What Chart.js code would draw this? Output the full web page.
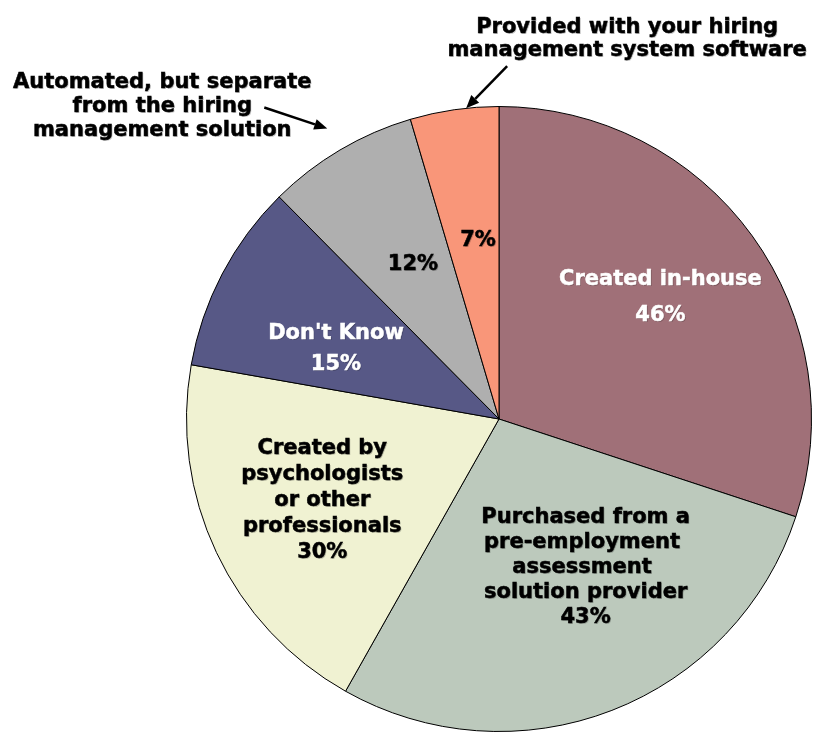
<!DOCTYPE html>
<html><head><meta charset="utf-8">
<script src="https://cdn.jsdelivr.net/npm/chart.js@4"></script>
<style>html,body{margin:0;padding:0;background:#fff}#wrap{width:815px;height:733px;position:relative}</style>
</head><body><div id="wrap"><canvas id="c"></canvas></div>
<script>
// ---- data ----
const categories = [
  "Created in-house",
  "Purchased from a pre-employment assessment solution provider",
  "Created by psychologists or other professionals",
  "Don't Know",
  "Automated, but separate from the hiring management solution",
  "Provided with your hiring management system software"
];
const values = [46, 43, 30, 15, 12, 7];
const sliceLabelLines = [
  ["Created in-house"],
  ["Purchased from a", "pre-employment ", "assessment ", "solution provider"],
  ["Created by", "psychologists", "or other", "professionals"],
  ["Don't Know"],
  [],
  []
];
const calloutLines = [
  null, null, null, null,
  ["Automated, but separate", "from the hiring", "management solution"],
  ["Provided with your hiring", "management system software"]
];

// ---- style ----
const colors = ["#A07078", "#BCC9BC", "#F0F2D2", "#575886", "#AFAFAF", "#F99679"];
const labelStyle = [
  {color: "#fff", r: 0.65, shift: -1.5, lh: 36},
  {color: "#000", r: 0.545, shift: -9.4, lh: 25},
  {color: "#000", r: 0.62, shift: 1.1, lh: 26},
  {color: "#fff", r: 0.57, shift: -3.9, lh: 31},
  {color: "#000", r: 0.57, shift: 1.7, lh: 25},
  {color: "#000", r: 0.58, shift: 1.6, lh: 25}
];
const calloutStyle = [
  null, null, null, null,
  {tipR: 1.08, shift: 0, tail: [-63, -21], text: [-165, -24], lh: 24},
  {tipR: 1.0, shift: 2.2, tail: [41, -42], text: [161, -71], lh: 23}
];
const FONT = "bold 21px 'DejaVu Sans', Verdana, sans-serif";
const TEXT_DY = 2;

function drawText(ctx, t, x, y, color) {
  y += TEXT_DY;
  ctx.fillStyle = color;
  ctx.strokeStyle = color;
  ctx.lineWidth = 0.5;
  ctx.fillText(t, x, y);
  ctx.shadowColor = 'transparent';
  ctx.strokeText(t, x, y);
  ctx.shadowColor = 'rgba(0,0,0,0.22)';
}

const labelPlugin = {
  id: 'labels',
  afterDatasetsDraw(chart) {
    const ctx = chart.ctx;
    const meta = chart.getDatasetMeta(0);
    ctx.save();
    ctx.font = FONT;
    ctx.textAlign = 'center';
    ctx.textBaseline = 'middle';
    meta.data.forEach((arc, i) => {
      const p = arc.getProps(['x', 'y', 'startAngle', 'endAngle', 'outerRadius'], true);
      const mid = (p.startAngle + p.endAngle) / 2;
      const st = labelStyle[i];
      const a = mid + st.shift * Math.PI / 180;
      const cx = p.x + Math.cos(a) * p.outerRadius * st.r;
      const cy = p.y + Math.sin(a) * p.outerRadius * st.r;
      const lines = sliceLabelLines[i].concat([values[i] + "%"]);
      const y0 = cy - (lines.length - 1) * st.lh / 2;
      ctx.shadowColor = 'rgba(0,0,0,0.22)';
      ctx.shadowOffsetX = 1; ctx.shadowOffsetY = 1; ctx.shadowBlur = 0;
      lines.forEach((t, k) => drawText(ctx, t, cx, y0 + k * st.lh, st.color));

      const cs = calloutStyle[i];
      if (cs) {
        const b = mid + cs.shift * Math.PI / 180;
        const tx = p.x + Math.cos(b) * p.outerRadius * cs.tipR;
        const ty = p.y + Math.sin(b) * p.outerRadius * cs.tipR;
        const sx = tx + cs.tail[0], sy = ty + cs.tail[1];
        const cl = calloutLines[i];
        const ly0 = ty + cs.text[1] - (cl.length - 1) * cs.lh / 2;
        cl.forEach((t, k) => drawText(ctx, t, tx + cs.text[0], ly0 + k * cs.lh, '#000'));
        // arrow
        ctx.shadowColor = 'transparent';
        const ang = Math.atan2(ty - sy, tx - sx);
        const hl = 13, hw = 5.5;
        const bx = tx - Math.cos(ang) * hl, by = ty - Math.sin(ang) * hl;
        ctx.strokeStyle = '#000';
        ctx.lineWidth = 2.5;
        ctx.beginPath(); ctx.moveTo(sx, sy); ctx.lineTo(bx, by); ctx.stroke();
        ctx.beginPath();
        ctx.moveTo(tx, ty);
        ctx.lineTo(bx + Math.sin(ang) * hw, by - Math.cos(ang) * hw);
        ctx.lineTo(bx - Math.sin(ang) * hw, by + Math.cos(ang) * hw);
        ctx.closePath();
        ctx.fillStyle = '#000';
        ctx.fill();
      }
    });
    ctx.restore();
  }
};

new Chart(document.getElementById('c'), {
  type: 'pie',
  data: {
    labels: categories,
    datasets: [{
      data: values,
      backgroundColor: colors,
      borderColor: '#000',
      borderWidth: 1
    }]
  },
  options: {
    responsive: true,
    maintainAspectRatio: false,
    animation: false,
    layout: {padding: {left: 186, right: 3, top: 106, bottom: 1}},
    plugins: {legend: {display: false}, tooltip: {enabled: false}}
  },
  plugins: [labelPlugin]
});
</script>
</body></html>
